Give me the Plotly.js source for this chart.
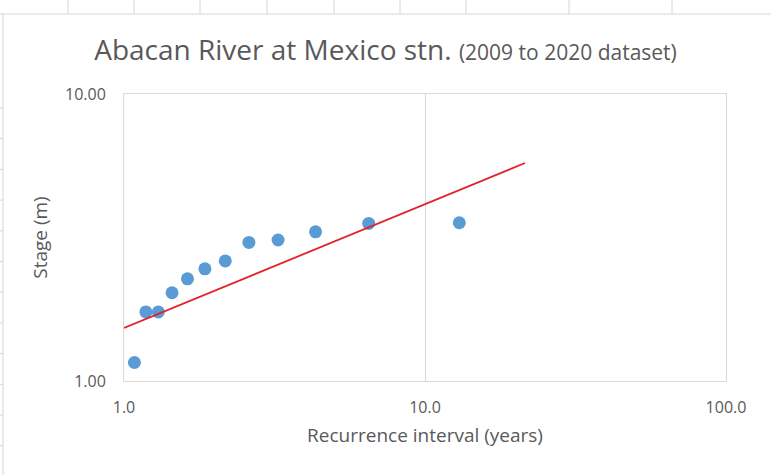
<!DOCTYPE html>
<html>
<head>
<meta charset="utf-8">
<script src="https://cdn.plot.ly/plotly-3.0.1.min.js"></script>
<style>
html,body{margin:0;padding:0;background:#fff;}
#chart{width:771px;height:475px;}
</style>
</head>
<body>
<div id="chart"></div>
<script>
// Recurrence interval (years) and stage (m), 2009-2020 annual maxima
var recurrence = [13.0, 6.5, 4.33, 3.25, 2.6, 2.17, 1.857, 1.625, 1.444, 1.3, 1.182, 1.083];
var stage      = [3.56, 3.54, 3.31, 3.10, 3.04, 2.62, 2.46, 2.27, 2.03, 1.74, 1.74, 1.16];
// Power trendline endpoints (as drawn)
var trendX = [1.0, 21.5];
var trendY = [1.53, 5.75];
var xTickVals = [1, 10, 100];
var xTickText = ["1.0", "10.0", "100.0"];
var yTickVals = [1, 10];
var yTickText = ["1.00", "10.00"];

var W = 771, H = 475;
var L = 124, R = 726, T = 94, B = 381;
function px(x){ return (x - L) / (R - L); }
function py(y){ return (B - y) / (B - T); }
var sheet = '#d6d6d6';
var shapes = [];
function ln(x0,y0,x1,y1){
  shapes.push({type:'line', xref:'paper', yref:'paper', x0:px(x0), y0:py(y0), x1:px(x1), y1:py(y1),
    line:{color:sheet, width:1}, layer:'below'});
}
ln(0,14,771,14);
ln(3,14,3,475);
[68,134,200,267,334,400,466,569,672].forEach(function(c){ ln(c,0,c,14); });
for (var r = 108; r < 475; r += 30.7) { ln(0, r, 3, r); }

var data = [
  {x: recurrence, y: stage, type:'scatter', mode:'markers',
   marker:{color:'#5b9bd5', size:13}, hoverinfo:'x+y'},
  {x: trendX, y: trendY, type:'scatter', mode:'lines',
   line:{color:'#e2222a', width:1.8}}
];

var font = "'Open Sans', sans-serif";
var layout = {
  width: W, height: H,
  margin: {l: L, r: W - R, t: T, b: H - B, pad: 0},
  paper_bgcolor: '#fff', plot_bgcolor: '#fff',
  showlegend: false,
  font: {family: font, color: '#595959'},
  title: {
    text: "Abacan River at Mexico stn. <span style='font-size:21px'>(2009 to 2020 dataset)</span>",
    font: {family: font, size: 28, color: '#595959'},
    x: 0.5, xanchor: 'center', xref: 'container',
    y: 1 - 50/H, yanchor: 'middle'
  },
  xaxis: {
    type: 'log', range: [0, 2],
    tickvals: xTickVals, ticktext: xTickText,
    showgrid: true, gridcolor: '#d9d9d9', gridwidth: 1,
    zeroline: false, showline: true, linecolor: '#d9d9d9', mirror: true,
    ticks: 'outside', ticklen: 12, tickcolor: 'rgba(0,0,0,0)',
    tickfont: {size: 16, color: '#595959', family: font},
    title: {text: 'Recurrence interval (years)', font: {size: 19, color: '#595959', family: font}, standoff: 11},
    automargin: false, fixedrange: true
  },
  yaxis: {
    type: 'log', range: [0, 1],
    tickvals: yTickVals, ticktext: yTickText,
    showgrid: true, gridcolor: '#d9d9d9', gridwidth: 1,
    zeroline: false, showline: true, linecolor: '#d9d9d9', mirror: true,
    ticks: 'outside', ticklen: 14, tickcolor: 'rgba(0,0,0,0)',
    tickfont: {size: 16, color: '#595959', family: font},
    title: {text: 'Stage (m)', font: {size: 19, color: '#595959', family: font}, standoff: 12},
    automargin: false, fixedrange: true
  },
  shapes: shapes
};

Plotly.newPlot('chart', data, layout, {displayModeBar: false, staticPlot: true});
</script>
</body>
</html>
